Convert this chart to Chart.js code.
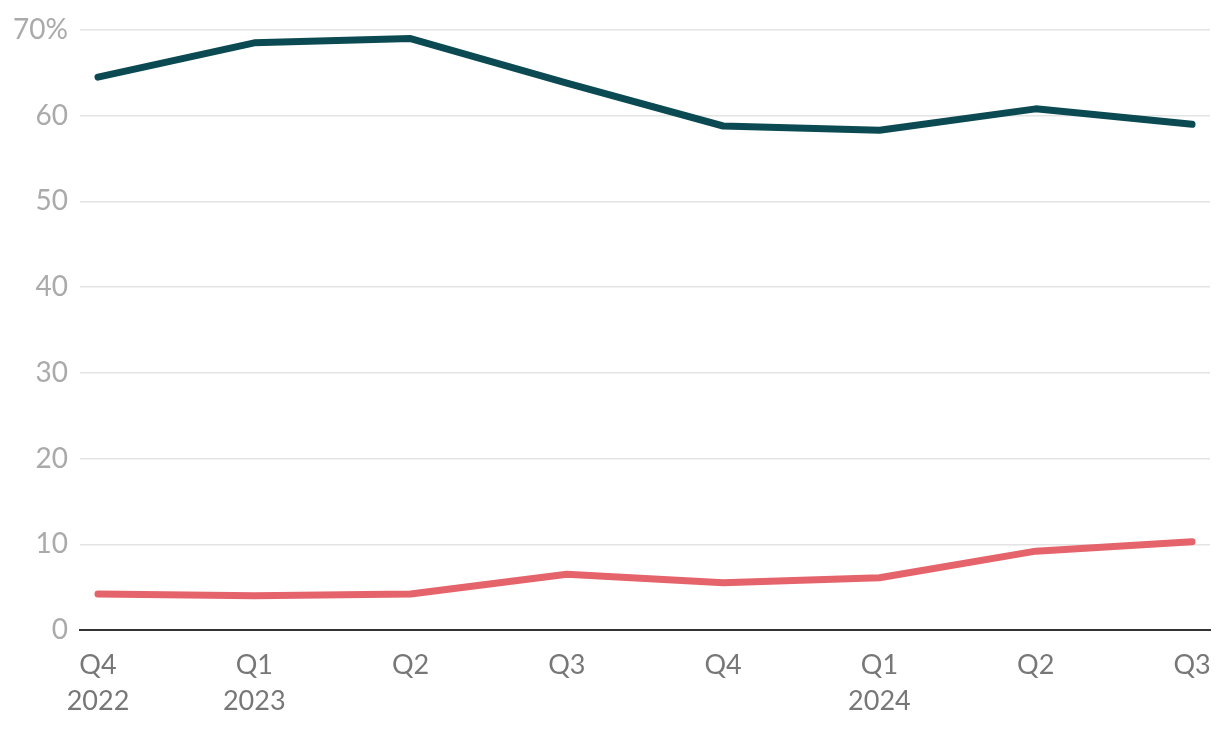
<!DOCTYPE html>
<html>
<head>
<meta charset="utf-8">
<script src="https://cdn.jsdelivr.net/npm/chart.js@4"></script>
<style>
html,body{margin:0;padding:0;background:#fff;}
#wrap{width:1220px;height:730px;}
</style>
</head>
<body>
<div id="wrap"><canvas id="c" width="1220" height="730"></canvas></div>
<script>
const quarters = ["Q4", "Q1", "Q2", "Q3", "Q4", "Q1", "Q2", "Q3"];
const years = ["2022", "2023", "", "", "", "2024", "", ""];
const darkSeries = [64.5, 68.5, 69.0, 63.8, 58.8, 58.3, 60.8, 59.0];
const redSeries = [4.2, 4.0, 4.2, 6.5, 5.5, 6.1, 9.2, 10.3];
const yTicks = [0, 10, 20, 30, 40, 50, 60, 70];

const toPts = arr => arr.map((v, i) => ({x: i, y: v}));
const FONT = "Lato, 'Source Sans Pro', 'Noto Sans', sans-serif";

new Chart(document.getElementById('c'), {
  type: 'line',
  data: {
    datasets: [
      {data: toPts(darkSeries), borderColor: '#0b4a52', borderWidth: 7, pointRadius: 0, borderCapStyle: 'round', borderJoinStyle: 'round', tension: 0},
      {data: toPts(redSeries), borderColor: '#e5636b', borderWidth: 7, pointRadius: 0, borderCapStyle: 'round', borderJoinStyle: 'round', tension: 0}
    ]
  },
  options: {
    responsive: false,
    animation: false,
    layout: {padding: {top: 30, right: 10, left: 0, bottom: 0}},
    plugins: {legend: {display: false}, tooltip: {enabled: false}},
    scales: {
      x: {
        type: 'linear',
        min: -0.115,
        max: 7.115,
        afterBuildTicks: s => { s.ticks = quarters.map((_, i) => ({value: i})); },
        afterFit: s => { s.height = 100; s.paddingRight = 0; s.paddingLeft = 0; },
        grid: {display: false, drawTicks: false},
        border: {display: true, color: '#333', width: 2},
        ticks: {
          autoSkip: false, maxRotation: 0, padding: 17,
          color: '#777',
          font: {family: FONT, size: 27, lineHeight: 1.35},
          callback: (v) => { const i = Math.round(v); return years[i] ? [quarters[i], years[i]] : quarters[i]; }
        }
      },
      y: {
        min: 0, max: 70,
        afterBuildTicks: s => { s.ticks = yTicks.map(v => ({value: v})); },
        afterFit: s => { s.width = 80; },
        grid: {color: '#e3e3e3', lineWidth: 1.5, drawTicks: false},
        border: {display: false},
        ticks: {
          padding: 12, color: '#aaa',
          font: {family: FONT, size: 28},
          callback: v => v === 70 ? '70%' : String(v)
        }
      }
    }
  }
});
</script>
</body>
</html>
